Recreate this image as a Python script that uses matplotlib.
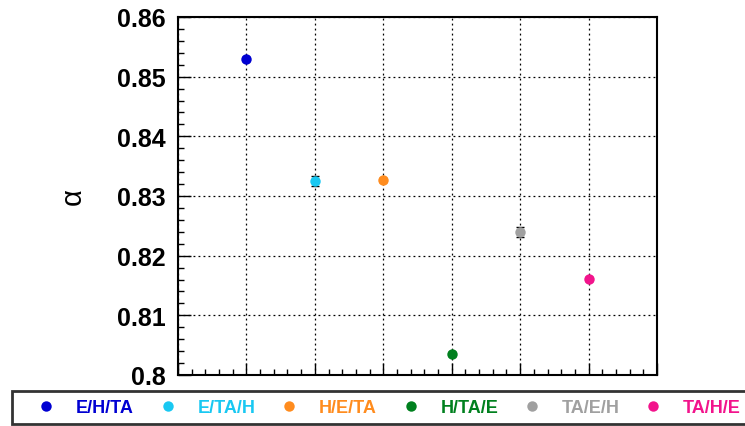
import numpy as np
import matplotlib
matplotlib.use('Agg')
import matplotlib.pyplot as plt

# data
orderings = ['E/H/TA', 'E/TA/H', 'H/E/TA', 'H/TA/E', 'TA/E/H', 'TA/H/E']
alpha_vals = [0.8530, 0.8325, 0.8327, 0.8035, 0.8240, 0.8161]
alpha_errs = [0.0003, 0.0008, 0.0004, 0.0003, 0.0008, 0.0003]
colors = ['#0000d2', '#19c8f2', '#ff8c1e', '#00801e', '#a0a0a0', '#f2148c']
ytick_vals = [0.80, 0.81, 0.82, 0.83, 0.84, 0.85, 0.86]
ytick_labels = ['0.8', '0.81', '0.82', '0.83', '0.84', '0.85', '0.86']

plt.rcParams['font.family'] = ['Liberation Sans', 'DejaVu Sans']
plt.rcParams['font.weight'] = 'bold'

fig = plt.figure(figsize=(7.45, 4.27), dpi=100)
ax = fig.add_axes([178 / 745, 1 - 376 / 427, (657 - 178) / 745, (376 - 18) / 427])

xpos = np.arange(1, len(orderings) + 1)
for x, y, e, c, name in zip(xpos, alpha_vals, alpha_errs, colors, orderings):
    ax.errorbar(x, y, yerr=e, fmt='none', ecolor='black', elinewidth=1,
                capsize=3, capthick=1, zorder=3)
    ax.plot(x, y, 'o', color=c, markersize=7.5, markeredgewidth=0,
            label=name, zorder=4)

ax.set_xlim(0, 7)
ax.set_ylim(0.80, 0.86)
ax.set_xticks(np.arange(0, 8))
ax.set_xticks(np.arange(0, 7.01, 0.2), minor=True)
ax.set_xticklabels([])
ax.set_yticks(ytick_vals)
ax.set_yticks(np.arange(0.80, 0.8601, 0.002), minor=True)
ax.set_yticklabels(ytick_labels, fontsize=18, fontweight='bold')

ax.tick_params(axis='both', which='major', direction='in', length=9, width=1,
               pad=9, top=False, right=False)
ax.tick_params(axis='both', which='minor', direction='in', length=4.5, width=1,
               top=False, right=False)
ax.grid(True, which='major', color='black', linestyle=(0, (1.5, 2.5)), linewidth=0.9)
for s in ax.spines.values():
    s.set_linewidth(1.5)

ax.set_ylabel('α', fontsize=21, fontweight='normal')
ax.yaxis.set_label_coords(-0.19, 0.5)

leg = fig.legend(loc='lower left', bbox_to_anchor=(12 / 745, 2 / 427),
                 bbox_transform=fig.transFigure, ncol=6, fontsize=13,
                 handlelength=2.9, handletextpad=0.2, columnspacing=0.42,
                 borderpad=0.45, borderaxespad=0, fancybox=False,
                 frameon=True, markerscale=1.0)
leg.get_frame().set_edgecolor('black')
leg.get_frame().set_linewidth(2)
for txt, c in zip(leg.get_texts(), colors):
    txt.set_color(c)
    txt.set_fontweight('bold')

fig.savefig('out.png', dpi=100)
